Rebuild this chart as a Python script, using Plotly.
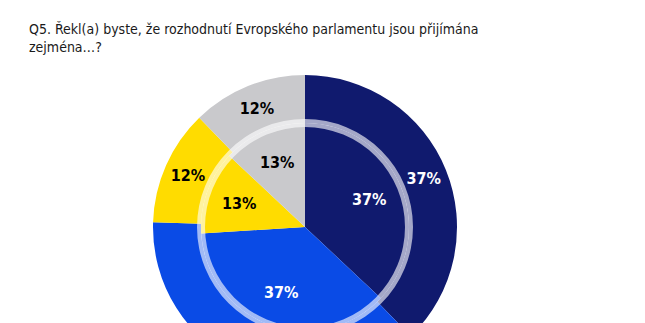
import math
import plotly.graph_objects as go

# Data
categories = ["Navy", "Blue", "Yellow", "Gray"]
outer_values = [37, 37, 12, 12]
inner_values = [37, 37, 13, 13]
colors = ["#101a6e", "#0a4be6", "#ffdc00", "#c9c9cc"]
text_colors = ["white", "white", "black", "black"]
title_text = "Q5. Řekl(a) byste, že rozhodnutí Evropského parlamentu jsou přijímána<br>zejména…?"

W, H = 645, 400
cx, cy = 305, 227          # pie centre in px (from top-left)
R_out, R_in, ring_w = 152, 104, 8
inner_label_r = 70


def dom(r):
    return dict(
        x=[(cx - r) / W, (cx + r) / W],
        y=[(H - cy - r) / H, (H - cy + r) / H],
    )


label_font = dict(family="DejaVu Sans Condensed", size=16, weight="bold")
# outer blue label falls below the visible area in the reference
outer_text = [f"{v}%" for v in outer_values]
outer_text[1] = ""

fig = go.Figure()
fig.add_trace(go.Pie(
    labels=categories, values=outer_values, sort=False, direction="clockwise", rotation=0,
    hole=R_in / R_out, domain=dom(R_out),
    marker=dict(colors=colors, line=dict(width=0)),
    text=outer_text, textinfo="text", textposition="inside",
    insidetextorientation="horizontal", insidetextfont=dict(label_font, color=text_colors),
    showlegend=False, hoverinfo="skip",
))
fig.add_trace(go.Pie(
    labels=categories, values=inner_values, sort=False, direction="clockwise", rotation=0,
    domain=dom(R_in),
    marker=dict(colors=colors, line=dict(width=0)),
    textinfo="none",
    showlegend=False, hoverinfo="skip",
))
# translucent ring between inner and outer pies
fig.add_trace(go.Pie(
    labels=["ring"], values=[1], sort=False,
    hole=(R_in - ring_w / 2) / (R_in + ring_w / 2), domain=dom(R_in + ring_w / 2),
    marker=dict(colors=["rgba(255,255,255,0.62)"], line=dict(width=0)),
    textinfo="none", showlegend=False, hoverinfo="skip",
))

# inner pie labels placed at each slice's mid-angle
total = sum(inner_values)
start = 0.0
for v, tc in zip(inner_values, text_colors):
    mid = (start + v / 2) / total * 2 * math.pi
    start += v
    px = cx + inner_label_r * math.sin(mid)
    py = cy - inner_label_r * math.cos(mid)
    fig.add_annotation(
        text=f"{v}%", xref="paper", yref="paper", x=px / W, y=1 - py / H,
        xanchor="center", yanchor="middle", showarrow=False,
        font=dict(label_font, color=tc),
    )

fig.add_annotation(
    text=title_text, xref="paper", yref="paper", x=27 / W, y=1 - 19 / H,
    xanchor="left", yanchor="top", align="left", showarrow=False,
    font=dict(family="DejaVu Sans Condensed", size=14, color="#1a1a1a"),
)

fig.update_layout(
    width=W, height=H, margin=dict(l=0, r=0, t=0, b=0),
    paper_bgcolor="white", plot_bgcolor="white",
)

fig.write_html("out.html")
